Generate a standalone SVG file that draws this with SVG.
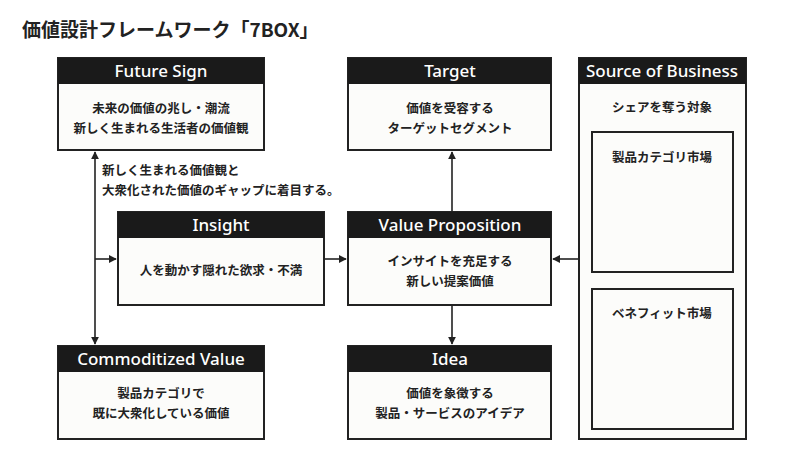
<svg xmlns="http://www.w3.org/2000/svg" width="800" height="449" viewBox="0 0 800 449">
<style>
.b{fill:#fcfcfa;stroke:#222;stroke-width:2}
.h{fill:#1a1a1a}
.ht{font-family:"Noto Sans","Noto Sans CJK JP",sans-serif;font-size:17px;fill:#fff;text-anchor:middle;font-weight:500}
.t{font-family:"Noto Sans CJK JP",sans-serif;font-size:12.5px;font-weight:bold;fill:#222;text-anchor:middle}
.l{stroke:#222;stroke-width:1.6;fill:none}
</style>
<defs><marker id="a" viewBox="0 0 10 10" refX="9" refY="5" markerWidth="5" markerHeight="5" orient="auto-start-reverse"><path d="M0 0L10 5L0 10z" fill="#222"/></marker></defs>
<rect width="800" height="449" fill="#fff"/>
<text x="22" y="37" font-family="Noto Sans CJK JP,sans-serif" font-size="19" font-weight="bold" fill="#222">価値設計フレームワーク「7BOX」</text>
<g id="future"><rect class="b" x="58" y="58" width="206" height="92"/><rect class="h" x="58" y="58" width="206" height="26"/><text class="ht" x="161" y="77">Future Sign</text><text class="t" x="161" y="113">未来の価値の兆し・潮流</text><text class="t" x="161" y="133">新しく生まれる生活者の価値観</text></g>
<g id="target"><rect class="b" x="348" y="58" width="203" height="92"/><rect class="h" x="348" y="58" width="203" height="26"/><text class="ht" x="450" y="77">Target</text><text class="t" x="450" y="113">価値を受容する</text><text class="t" x="450" y="133">ターゲットセグメント</text></g>
<g id="sob"><rect class="b" x="579" y="58" width="167" height="381"/><rect class="h" x="579" y="58" width="167" height="26"/><text class="ht" x="662" y="77">Source of Business</text><text class="t" x="662" y="112">シェアを奪う対象</text>
<rect class="b" x="592" y="132" width="141" height="140"/><text class="t" x="662" y="162">製品カテゴリ市場</text>
<rect class="b" x="592" y="289" width="141" height="140"/><text class="t" x="662" y="318">ベネフィット市場</text></g>
<g id="insight"><rect class="b" x="118" y="212" width="206" height="93"/><rect class="h" x="118" y="212" width="206" height="26"/><text class="ht" x="221" y="231">Insight</text><text class="t" x="221" y="275">人を動かす隠れた欲求・不満</text></g>
<g id="vp"><rect class="b" x="348" y="212" width="203" height="93"/><rect class="h" x="348" y="212" width="203" height="26"/><text class="ht" x="450" y="231">Value Proposition</text><text class="t" x="450" y="266">インサイトを充足する</text><text class="t" x="450" y="286">新しい提案価値</text></g>
<g id="commod"><rect class="b" x="58" y="346" width="206" height="93"/><rect class="h" x="58" y="346" width="206" height="26"/><text class="ht" x="161" y="365">Commoditized Value</text><text class="t" x="161" y="398">製品カテゴリで</text><text class="t" x="161" y="418">既に大衆化している価値</text></g>
<g id="idea"><rect class="b" x="348" y="346" width="203" height="93"/><rect class="h" x="348" y="346" width="203" height="26"/><text class="ht" x="450" y="365">Idea</text><text class="t" x="450" y="398">価値を象徴する</text><text class="t" x="450" y="418">製品・サービスのアイデア</text></g>
<g id="connectors">
<path class="l" d="M95 152V344" marker-start="url(#a)" marker-end="url(#a)"/>
<path class="l" d="M95 259H116" marker-end="url(#a)"/>
<path class="l" d="M324 259H346" marker-end="url(#a)"/>
<path class="l" d="M579 259H553" marker-end="url(#a)"/>
<path class="l" d="M452 212V152" marker-end="url(#a)"/>
<path class="l" d="M452 305V344" marker-end="url(#a)"/>
<text x="102" y="175" font-family="Noto Sans CJK JP,sans-serif" font-size="12.5" font-weight="bold" fill="#222">新しく生まれる価値観と</text>
<text x="102" y="195" font-family="Noto Sans CJK JP,sans-serif" font-size="12.5" font-weight="bold" fill="#222">大衆化された価値のギャップに着目する。</text>
</g>
</svg>
